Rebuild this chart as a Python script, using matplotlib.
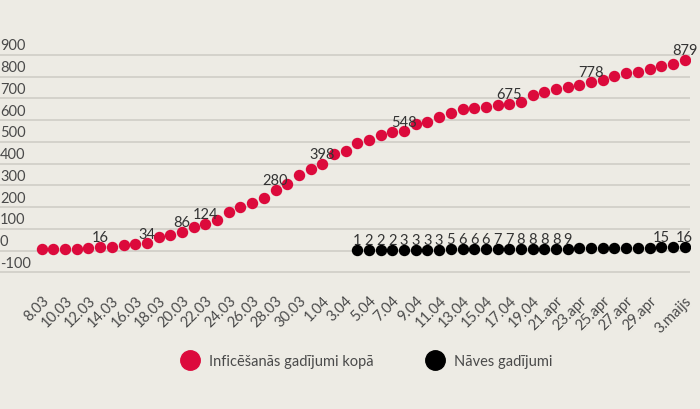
import matplotlib.pyplot as plt
import numpy as np
from matplotlib.transforms import blended_transform_factory

# x labels (every other point; last label sits on the last point)
TICK_LABELS = ["8.03", "10.03", "12.03", "14.03", "16.03", "18.03", "20.03", "22.03",
               "24.03", "26.03", "28.03", "30.03", "1.04", "3.04", "5.04", "7.04",
               "9.04", "11.04", "13.04", "15.04", "17.04", "19.04", "21.apr", "23.apr",
               "25.apr", "27.apr", "29.apr", "3.maijs"]
TICK_POS = list(range(0, 54, 2)) + [55]

infected = [5, 5, 8, 8, 14, 16, 16, 26, 30, 34, 61, 71, 86, 109, 124, 142, 179, 200,
            221, 243, 280, 305, 347, 376, 398, 446, 458, 496, 511, 533, 545, 548, 582,
            591, 614, 635, 651, 655, 661, 668, 675, 683, 715, 730, 743, 752, 761, 778,
            785, 805, 816, 822, 837, 848, 860, 879]
infected_labelled = [5, 9, 12, 14, 20, 24, 31, 40, 47, 55]

deaths_start = 27
deaths = [1, 2, 2, 2, 3, 3, 3, 3, 5, 6, 6, 6, 7, 7, 8, 8, 8, 8, 9,
          10, 11, 11, 12, 12, 13, 13, 15, 16, 16]
deaths_labelled = list(range(0, 19)) + [26, 28]

Y_TICKS = [-100, 0, 100, 200, 300, 400, 500, 600, 700, 800, 900]

RED = "#dc0a3c"
BG = "#edebe4"
TXT = "#4a4a4a"
plt.rcParams["font.family"] = "Lato"

fig = plt.figure(figsize=(7, 4.1), dpi=100, facecolor=BG)
ax = fig.add_axes([0, 1 - 280 / 410, 690 / 700, 240 / 410], facecolor=BG)

x_inf = np.arange(len(infected))
x_d = np.arange(deaths_start, deaths_start + len(deaths))

for y in Y_TICKS:
    ax.axhline(y, color="#cfcdc6", lw=1.2, zorder=0)
trans = blended_transform_factory(ax.transAxes, ax.transData)
for y in Y_TICKS:
    ax.text(0.0, y + 12, str(y), transform=trans, ha="left", va="bottom",
            fontsize=10.5, color=TXT)

ax.plot(x_inf, infected, "o", color=RED, ms=7.2, zorder=3)
ax.plot(x_d, deaths, "o", color="black", ms=7.2, zorder=3)

for i in infected_labelled:
    ax.text(x_inf[i], infected[i] + 12, str(infected[i]), ha="center", va="bottom",
            fontsize=10.5, color="#333333")
for i in deaths_labelled:
    ax.text(x_d[i], deaths[i] + 14, str(deaths[i]), ha="center", va="bottom",
            fontsize=10.5, color="#333333")

ax.set_xlim(-3.57, 55.46)
ax.set_ylim(-130.8, 973.6)
ax.set_yticks([])
ax.set_xticks(TICK_POS)
ax.set_xticklabels(TICK_LABELS, rotation=45, ha="right", rotation_mode="anchor",
                   fontsize=10.5, color=TXT)
ax.tick_params(axis="x", length=0, pad=10)
for s in ax.spines.values():
    s.set_visible(False)

h1 = plt.Line2D([], [], marker="o", ls="", color=RED, ms=14)
h2 = plt.Line2D([], [], marker="o", ls="", color="black", ms=14)
fig.legend([h1, h2], ["Inficēšanās gadījumi kopā", "Nāves gadījumi"],
           loc="center", bbox_to_anchor=(0.52, 1 - 362 / 410), ncol=2,
           frameon=False, fontsize=10.5, labelcolor=TXT, columnspacing=3.2,
           handletextpad=0.3)

fig.savefig("out.png", dpi=100, facecolor=BG)
